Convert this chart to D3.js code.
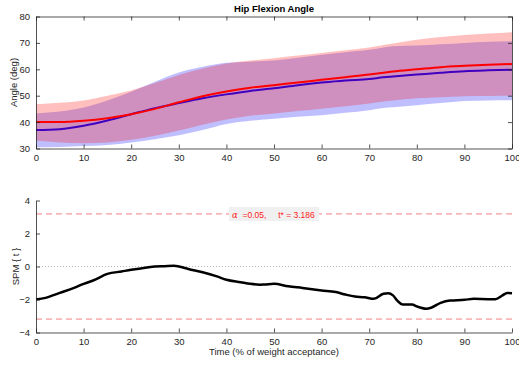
<!DOCTYPE html>
<html><head><meta charset="utf-8">
<script src="https://cdn.jsdelivr.net/npm/d3@7"></script>
<style>body{margin:0;background:#fff;}svg{display:block;font-family:"Liberation Sans",Arial,sans-serif;}</style>
</head><body><svg id="c" width="519" height="367"></svg>
<script>
// ---- data ----
const xs = [0,5,10,15,20,25,30,35,40,45,50,55,60,65,70,73,75,80,85,90,95,100];
const redMean  = [40,40,40.5,41.5,43,45,47.5,49.8,51.6,53,54,55,56,57,58,58.7,59.2,60,60.8,61.3,61.7,62];
const redUpper = [46.8,47.3,48.2,50,52,54.8,57.8,60.3,62.2,63.3,64.2,65.2,66.2,67.2,68.3,69.2,69.8,71.2,72.2,73,73.6,74];
const redLower = [33,32.3,32,32.3,33.3,34.8,36.8,39,41,42.4,43.3,44.2,45.1,46,47,47.8,48.2,49,49.4,49.8,49.9,50];
const blueMean  = [37,37.3,38.6,40.6,43,45.3,47.2,49,50.5,51.8,52.8,54,55,55.8,56.3,57,57.3,58,58.7,59.3,59.6,59.8];
const blueUpper = [43.3,44,45.5,48.2,51.5,55.3,58.8,61,62.5,62.9,63.3,64.4,65.5,66.5,67.4,68.3,68.7,69,69.5,70,70.4,70.6];
const blueLower = [30.5,30.6,30.9,31.3,32.3,33.5,35,37,39.3,40.5,41.3,42,42.6,43.5,44.5,45.3,45.6,46.4,47.2,48,48.2,48.3];
const spmX = [0,2,5,8,10,12,15,18,20,23,25,27,29,30,32,35,38,40,43,45,47,48,50,53,56,60,63,65,67,69,71,73,74,75,76,77,79,80,82,83,85,87,90,92,95,96.5,98,99,100];
const spmT = [-2,-1.9,-1.6,-1.3,-1.05,-0.85,-0.45,-0.3,-0.2,-0.08,0,0.02,0.04,0,-0.15,-0.35,-0.6,-0.8,-0.95,-1.05,-1.1,-1.09,-1.05,-1.2,-1.3,-1.45,-1.55,-1.7,-1.82,-1.86,-1.96,-1.65,-1.62,-1.75,-2.1,-2.3,-2.3,-2.42,-2.56,-2.5,-2.2,-2.06,-2.02,-1.96,-1.98,-1.98,-1.75,-1.6,-1.62];
const xTicks = [0,10,20,30,40,50,60,70,80,90,100];
const angleTicks = [30,40,50,60,70,80];
const spmTicks = [-4,-2,0,2,4];
const tCrit = 3.186;
const alpha = 0.05;

const svg = d3.select("#c");
const x = d3.scaleLinear().domain([0,100]).range([36,512]);
const y1 = d3.scaleLinear().domain([30,80]).range([148.5,16.5]);
const y2 = d3.scaleLinear().domain([-4,4]).range([332.5,200.5]);
const tc = "#262626";

function styleAxis(g){
  g.selectAll("path.domain").attr("stroke",tc).attr("stroke-width",0.8);
  g.selectAll(".tick line").attr("stroke",tc).attr("stroke-width",0.8);
  g.selectAll(".tick text").attr("fill",tc).style("font-size","9.5px").style("font-family","Liberation Sans, Arial, sans-serif");
}

// ---- top chart ----
const gTop = svg.append("g");
const band = (u,l)=>d3.area().x((d,i)=>x(xs[i])).y0((d,i)=>y1(l[i])).y1((d,i)=>y1(u[i])).curve(d3.curveMonotoneX);
const line1 = arr=>d3.line().x((d,i)=>x(xs[i])).y((d,i)=>y1(arr[i])).curve(d3.curveMonotoneX);
gTop.append("path").datum(blueUpper).attr("d",band(blueUpper,blueLower)).attr("fill","rgb(0,0,255)").attr("fill-opacity",0.25);
gTop.append("path").datum(blueMean).attr("d",line1(blueMean)).attr("fill","none").attr("stroke","#0000ff").attr("stroke-width",2);
gTop.append("path").datum(redUpper).attr("d",band(redUpper,redLower)).attr("fill","rgb(255,0,0)").attr("fill-opacity",0.25);
gTop.append("path").datum(redMean).attr("d",line1(redMean)).attr("fill","none").attr("stroke","#ff0000").attr("stroke-width",2);

const tl = 4;
gTop.append("g").attr("transform","translate(0,148.5)").call(d3.axisBottom(x).tickValues(xTicks).tickSizeInner(-tl).tickSizeOuter(0).tickPadding(6)).call(styleAxis);
gTop.append("g").attr("transform","translate(0,16.5)").call(d3.axisTop(x).tickValues(xTicks).tickSizeInner(-tl).tickSizeOuter(0).tickFormat("")).call(styleAxis);
gTop.append("g").attr("transform","translate(36,0)").call(d3.axisLeft(y1).tickValues(angleTicks).tickSizeInner(-tl).tickSizeOuter(0).tickPadding(6)).call(styleAxis);
gTop.append("g").attr("transform","translate(512,0)").call(d3.axisRight(y1).tickValues(angleTicks).tickSizeInner(-tl).tickSizeOuter(0).tickFormat("")).call(styleAxis);
svg.append("text").attr("x",274).attr("y",12).attr("text-anchor","middle").style("font-size","9.5px").style("font-weight","bold").attr("fill","#000").text("Hip Flexion Angle");
svg.append("text").attr("transform","translate(17,82.5) rotate(-90)").attr("text-anchor","middle").style("font-size","9.5px").attr("fill",tc).text("Angle (deg)");

// ---- bottom chart ----
const gBot = svg.append("g");
gBot.append("line").attr("x1",x(0)).attr("x2",x(100)).attr("y1",y2(0)).attr("y2",y2(0)).attr("stroke","#aaa").attr("stroke-width",0.8).attr("stroke-dasharray","1,2");
[tCrit,-tCrit].forEach(v=>{
  gBot.append("line").attr("x1",x(0)).attr("x2",x(100)).attr("y1",y2(v)).attr("y2",y2(v)).attr("stroke","#f08080").attr("stroke-width",1).attr("stroke-dasharray","6,4");
});
gBot.append("path").datum(spmT).attr("d",d3.line().x((d,i)=>x(spmX[i])).y(d=>y2(d)).curve(d3.curveMonotoneX)).attr("fill","none").attr("stroke","#000").attr("stroke-width",2.5);
gBot.append("g").attr("transform","translate(0,332.5)").call(d3.axisBottom(x).tickValues(xTicks).tickSizeInner(-tl).tickSizeOuter(0).tickPadding(6)).call(styleAxis);
gBot.append("g").attr("transform","translate(36,0)").call(d3.axisLeft(y2).tickValues(spmTicks).tickSizeInner(-tl).tickSizeOuter(0).tickPadding(6)).call(styleAxis);
gBot.append("rect").attr("x",229).attr("y",207).attr("width",90).attr("height",14).attr("fill","#f0f0f0");
const lab = gBot.append("text").attr("x",232).attr("y",217.5).style("font-size","8.5px").attr("fill","#ff2020").attr("xml:space","preserve");
lab.append("tspan").style("font-family","DejaVu Serif, serif").style("font-style","italic").text("α");
lab.append("tspan").text("  =" + alpha.toFixed(2) + ",     t* = " + tCrit.toFixed(3));
svg.append("text").attr("transform","translate(19,266.5) rotate(-90)").attr("text-anchor","middle").style("font-size","9.5px").attr("fill",tc).text("SPM { t }");
svg.append("text").attr("x",274).attr("y",355).attr("text-anchor","middle").style("font-size","9.5px").attr("fill",tc).text("Time (% of weight acceptance)");
</script></body></html>
